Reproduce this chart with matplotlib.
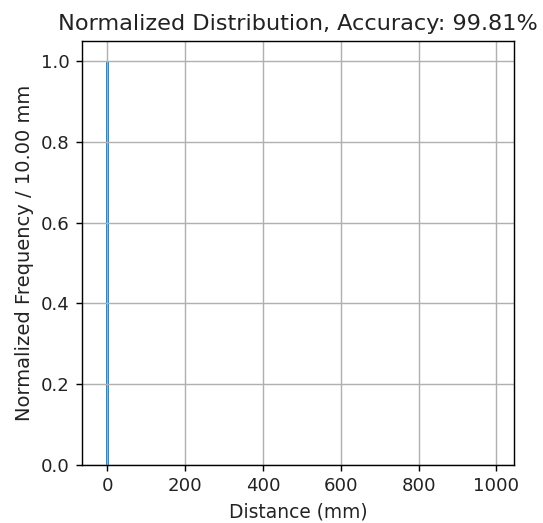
import numpy as np
import matplotlib
matplotlib.use('Agg')
import matplotlib.pyplot as plt

# Histogram bins (10 mm wide) and normalized frequencies
bin_edges = np.arange(-15, 1000, 10)
bin_centers = (bin_edges[:-1] + bin_edges[1:]) / 2
frequencies = np.zeros(len(bin_centers))
frequencies[1] = 1.0  # bin [-5, 5) holds nearly everything

accuracy = 99.81
bin_width = 10.0

fig = plt.figure(figsize=(543 / 128, 523 / 128), dpi=128)
ax = fig.add_axes([82 / 543, 58 / 523, 432 / 543, 424 / 523])

ax.hist(bin_centers, bins=bin_edges, weights=frequencies)

ax.set_title(f'Normalized Distribution, Accuracy: {accuracy:.2f}%', fontsize=12.6, color='#222222')
ax.set_xlabel('Distance (mm)', fontsize=10.5, color='#222222')
ax.set_ylabel(f'Normalized Frequency / {bin_width:.2f} mm', fontsize=11, color='#222222')
ax.tick_params(labelsize=10.2, labelcolor='#222222')
ax.grid(True)

fig.savefig('out.png', dpi=128)
